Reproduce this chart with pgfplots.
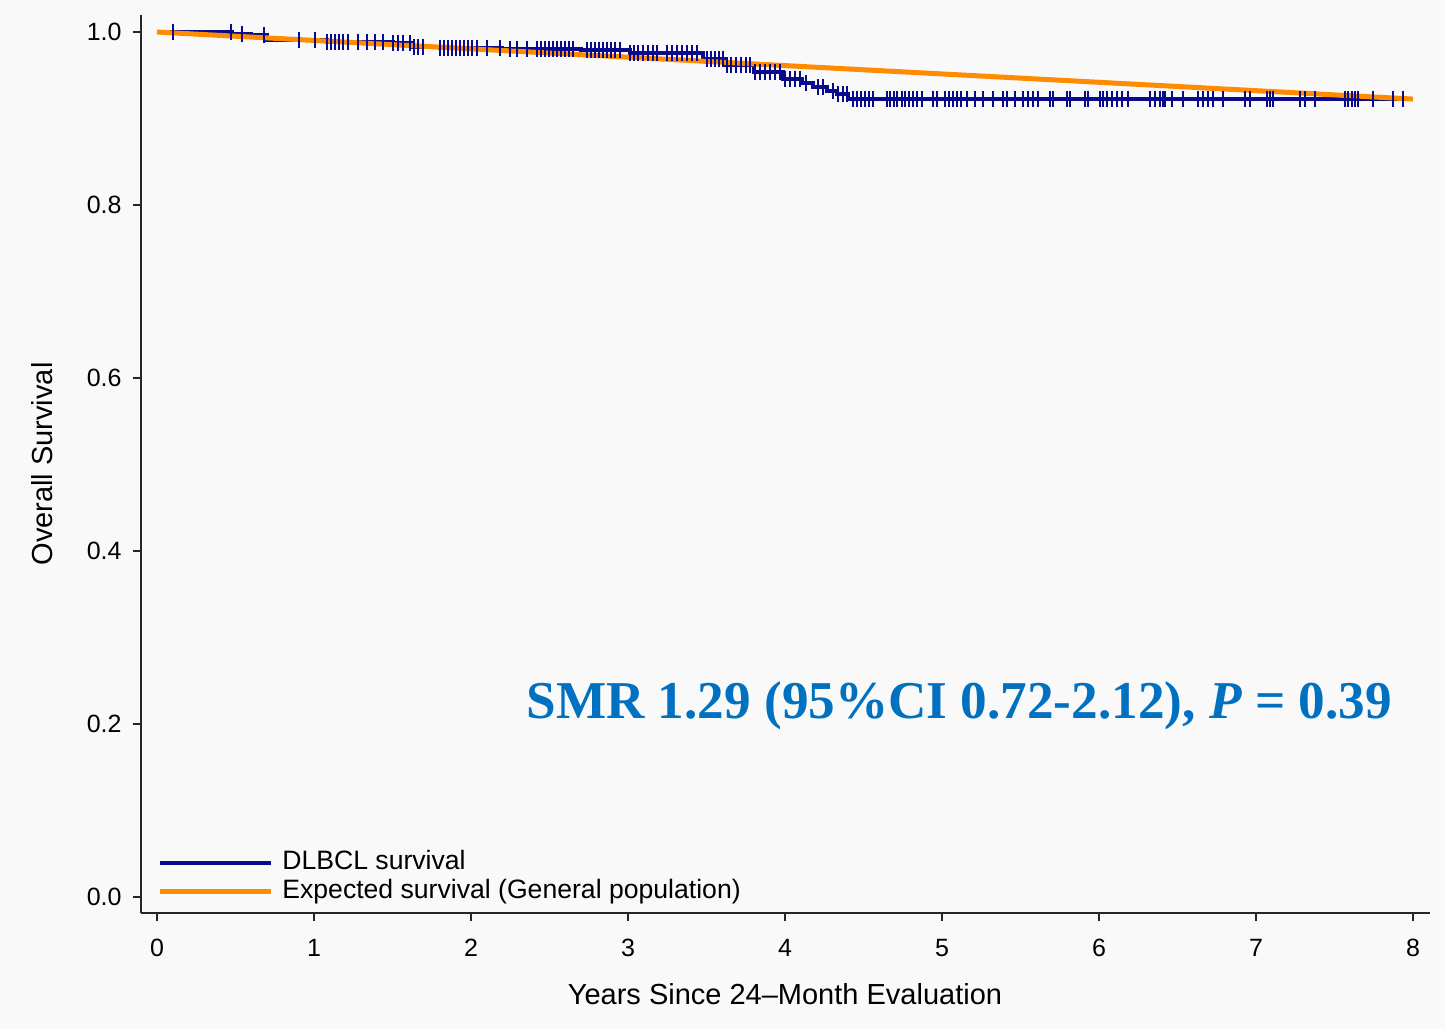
\documentclass[border=0pt]{standalone}
\usepackage{pgfplots}
\pgfplotsset{compat=1.18}
\usepackage{pgfplotstable}
\usepackage{fontspec}
\setmainfont{Liberation Sans}
\newfontfamily\timesfont{Liberation Serif}

\definecolor{kmblue}{RGB}{10,10,140}
\definecolor{exporange}{RGB}{255,140,0}
\definecolor{smrblue}{RGB}{0,112,192}
\definecolor{bg}{RGB}{249,249,249}

% censored observations (x = years, y = survival at that time)
\pgfplotstableread{
x y
0.102 1.000
0.471 1.000
0.541 0.998
0.682 0.996
0.904 0.991
1.006 0.991
1.083 0.989
1.108 0.989
1.134 0.989
1.159 0.989
1.185 0.989
1.217 0.989
1.280 0.989
1.338 0.989
1.389 0.989
1.439 0.989
1.503 0.987
1.535 0.987
1.567 0.987
1.611 0.987
1.637 0.983
1.662 0.983
1.694 0.983
1.803 0.981
1.828 0.981
1.854 0.981
1.879 0.981
1.904 0.981
1.930 0.981
1.955 0.981
1.981 0.981
2.006 0.981
2.038 0.981
2.102 0.981
2.185 0.981
2.248 0.980
2.293 0.980
2.357 0.980
2.420 0.980
2.446 0.980
2.471 0.980
2.497 0.980
2.522 0.980
2.548 0.980
2.573 0.980
2.599 0.980
2.624 0.980
2.650 0.980
2.739 0.979
2.764 0.979
2.790 0.979
2.815 0.979
2.841 0.979
2.866 0.979
2.892 0.979
2.917 0.979
2.949 0.979
3.013 0.976
3.038 0.976
3.064 0.976
3.096 0.976
3.127 0.976
3.159 0.976
3.185 0.976
3.248 0.976
3.280 0.976
3.312 0.976
3.344 0.976
3.376 0.976
3.408 0.976
3.439 0.976
3.503 0.969
3.529 0.969
3.554 0.969
3.580 0.969
3.605 0.969
3.631 0.962
3.656 0.962
3.688 0.962
3.720 0.962
3.752 0.962
3.777 0.962
3.809 0.954
3.841 0.954
3.873 0.954
3.904 0.954
3.936 0.954
3.968 0.954
4.000 0.946
4.032 0.946
4.064 0.946
4.096 0.946
4.134 0.941
4.210 0.936
4.242 0.936
4.306 0.932
4.338 0.928
4.369 0.928
4.395 0.928
4.433 0.9225
4.459 0.9225
4.484 0.9225
4.510 0.9225
4.535 0.9225
4.561 0.9225
4.650 0.9225
4.669 0.9225
4.694 0.9225
4.713 0.9225
4.745 0.9225
4.764 0.9225
4.790 0.9225
4.815 0.9225
4.841 0.9225
4.873 0.9225
4.943 0.9225
4.968 0.9225
5.019 0.9225
5.045 0.9225
5.070 0.9225
5.096 0.9225
5.121 0.9225
5.159 0.9225
5.210 0.9225
5.261 0.9225
5.325 0.9225
5.389 0.9225
5.414 0.9225
5.465 0.9225
5.516 0.9225
5.548 0.9225
5.580 0.9225
5.611 0.9225
5.688 0.9225
5.707 0.9225
5.796 0.9225
5.815 0.9225
5.911 0.9225
5.930 0.9225
6.006 0.9225
6.025 0.9225
6.051 0.9225
6.083 0.9225
6.115 0.9225
6.146 0.9225
6.185 0.9225
6.325 0.9225
6.357 0.9225
6.389 0.9225
6.408 0.9225
6.420 0.9225
6.465 0.9225
6.535 0.9225
6.631 0.9225
6.662 0.9225
6.694 0.9225
6.726 0.9225
6.790 0.9225
6.930 0.9225
6.962 0.9225
7.070 0.9225
7.089 0.9225
7.108 0.9225
7.280 0.9225
7.312 0.9225
7.376 0.9225
7.567 0.9225
7.586 0.9225
7.611 0.9225
7.631 0.9225
7.650 0.9225
7.745 0.9225
7.873 0.9225
7.936 0.9225
}\censored

\begin{document}
\begin{tikzpicture}
\fill[bg] (-70.5pt,-58pt) rectangle (652pt,456.5pt);
\begin{axis}[
    scale only axis,
    width=644.5pt, height=449pt,
    xmin=-0.1019, xmax=8.1083,
    ymin=-0.0185, ymax=1.0197,
    axis x line*=bottom, axis y line*=left,
    axis line style={-, line width=1pt, black!85},
    xtick={0,1,2,3,4,5,6,7,8},
    ytick={0,0.2,0.4,0.6,0.8,1.0},
    /pgf/number format/assume math mode=true,
    tick align=outside, major tick length=4pt,
    tick style={black!85, line width=1pt},
    ticklabel style={font=\fontsize{12.5}{14}\selectfont},
    xticklabel style={anchor=north, inner sep=0pt, yshift=-9pt},
    yticklabel style={anchor=east, inner sep=0pt, xshift=-5.5pt,
        /pgf/number format/fixed, /pgf/number format/fixed zerofill,
        /pgf/number format/precision=1},
    xlabel={Years Since 24–Month Evaluation},
    ylabel={Overall Survival},
    every axis x label/.style={at={(axis description cs:0.4996,-0.0902)}, anchor=center,
        font=\fontsize{14.5}{17}\selectfont},
    every axis y label/.style={at={(axis description cs:-0.0768,0.5)}, anchor=center, rotate=90,
        font=\fontsize{14.5}{17}\selectfont},
    legend style={at={(axis description cs:0.0124,0.0089)}, anchor=south west,
        draw=none, fill=none, inner sep=0pt, row sep=1.5pt,
        font=\fontsize{13.3}{15}\selectfont,
        nodes={inner sep=0pt, text height=10pt, text depth=3pt}},
    legend cell align=left,
    legend image code/.code={\draw[#1] (0pt,0pt) -- (55.5pt,0pt);},
    /tikz/every odd column/.append style={column sep=4.5pt},
    clip=false,
]
\addplot[const plot, kmblue, line width=2pt] coordinates {
    (0,1.000) (0.48,0.998) (0.60,0.996) (0.70,0.991) (1.08,0.989) (1.50,0.987)
    (1.62,0.983) (1.80,0.981) (2.20,0.980) (2.70,0.979) (3.01,0.976) (3.48,0.969)
    (3.61,0.962) (3.80,0.954) (3.99,0.946) (4.11,0.941) (4.18,0.936) (4.27,0.932)
    (4.33,0.928) (4.40,0.9225) (7.95,0.9225)
};
\addlegendentry{DLBCL survival}
\addplot[exporange, line width=2.5pt] coordinates {
    (0,1.0) (2,0.9806) (4,0.9612) (6,0.9419) (8,0.9225)
};
\addlegendentry{Expected survival (General population)}
\addplot[only marks, mark=|, mark size=4pt, kmblue, mark options={line width=1.2pt}, forget plot] table {\censored};
\node[font=\timesfont\bfseries\fontsize{26.6}{30}\selectfont, text=smrblue, anchor=center]
    at (axis cs:5.11,0.221) {SMR 1.29 (95\%CI 0.72-2.12), \textit{P} = 0.39};
\end{axis}
\end{tikzpicture}
\end{document}
